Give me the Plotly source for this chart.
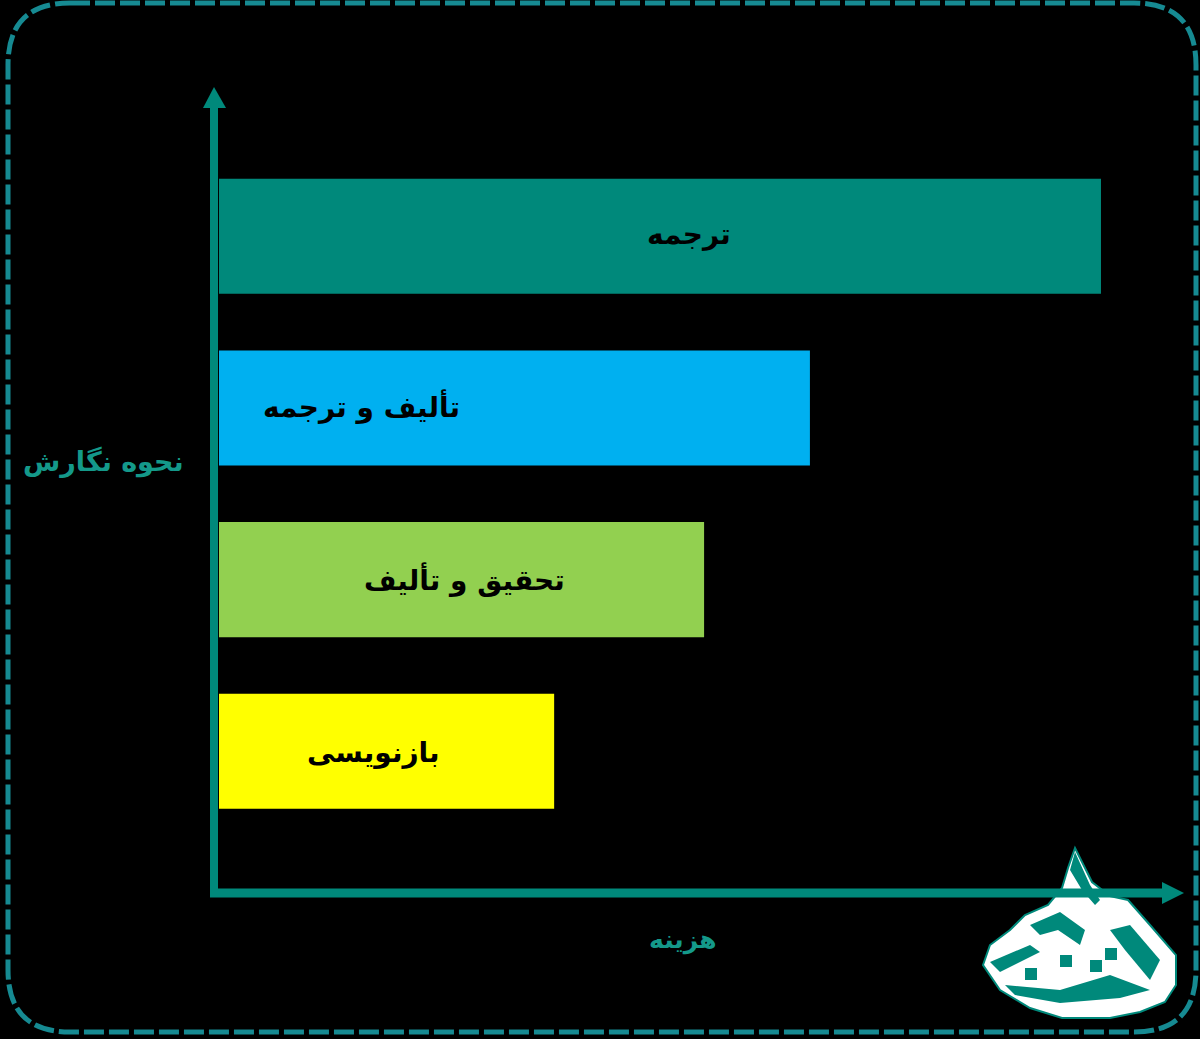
import plotly.graph_objects as go

# ---- data ----
categories = ["ترجمه", "تألیف و ترجمه", "تحقیق و تألیف", "بازنویسی"]
cost_values = [100, 67, 55, 38]
bar_colors = ["#00897B", "#00B0F0", "#92D050", "#FFFF00"]
y_axis_title = "نحوه نگارش"
x_axis_title = "هزینه"

W, H = 1200, 1039
TEAL = "#00897B"
BORDER = "#168a92"


def px(x):
    return x / W


def py(y):
    return 1 - y / H


def poly(points):
    return "M " + " L ".join(f"{px(a)},{py(b)}" for a, b in points) + " Z"


fig = go.Figure()
fig.add_trace(go.Bar(
    y=categories, x=cost_values, orientation="h",
    marker=dict(color=bar_colors, line=dict(width=0)),
    width=0.67, hoverinfo="skip", showlegend=False,
))

# label placement (style): x in axis units, pixel shift
label_pos = [(53.3, 2), (16.2, 1), (27.8, 0), (17.5, -1)]
annotations = []
for cat, (lx, ys) in zip(categories, label_pos):
    annotations.append(dict(
        x=lx, y=cat, xref="x", yref="y", text="<b>" + cat + "</b>",
        showarrow=False, font=dict(family="DejaVu Sans", size=28, color="black"),
        xanchor="center", yanchor="middle", yshift=ys,
    ))
annotations.append(dict(
    x=px(103), y=py(462), xref="paper", yref="paper", text="<b>" + y_axis_title + "</b>",
    showarrow=False, font=dict(family="DejaVu Sans", size=27, color="#14998a"),
    xanchor="center", yanchor="middle",
))
annotations.append(dict(
    x=px(683), y=py(940), xref="paper", yref="paper", text="<b>" + x_axis_title + "</b>",
    showarrow=False, font=dict(family="DejaVu Sans", size=25, color="#14998a"),
    xanchor="center", yanchor="middle",
))

shapes = []

# simplified logo (bottom-right emblem)
logo_outline = [(1075, 848), (1082, 862), (1092, 882), (1110, 896), (1128, 900),
                (1150, 925), (1176, 955), (1176, 985), (1165, 1002), (1140, 1012),
                (1110, 1018), (1062, 1018), (1030, 1008), (1000, 990), (983, 965),
                (990, 945), (1010, 930), (1025, 915), (1048, 905), (1062, 888), (1068, 868)]
shapes.append(dict(type="path", xref="paper", yref="paper", path=poly(logo_outline),
                   fillcolor="white", line=dict(color=TEAL, width=2)))
logo_bands = [
    [(1075, 852), (1090, 885), (1100, 900), (1095, 905), (1082, 890), (1070, 870)],
    [(1030, 925), (1060, 912), (1085, 930), (1080, 945), (1058, 930), (1040, 935)],
    [(990, 962), (1030, 945), (1040, 952), (1000, 972)],
    [(1005, 985), (1060, 990), (1110, 975), (1150, 990), (1120, 998), (1060, 1003), (1015, 995)],
    [(1110, 930), (1130, 925), (1160, 960), (1150, 980), (1125, 950)],
]
for band in logo_bands:
    shapes.append(dict(type="path", xref="paper", yref="paper", path=poly(band),
                       fillcolor=TEAL, line=dict(width=0)))
for sx, sy in [(1025, 968), (1090, 960), (1105, 948), (1060, 955)]:
    shapes.append(dict(type="rect", xref="paper", yref="paper",
                       x0=px(sx), x1=px(sx + 12), y0=py(sy), y1=py(sy + 12),
                       fillcolor=TEAL, line=dict(width=0)))

# rounded dashed border
L, R, T, B, r = 8, 1196, 3, 1032, 62
border_path = (
    f"M {px(L + r)},{py(T)} L {px(R - r)},{py(T)} "
    f"Q {px(R)},{py(T)} {px(R)},{py(T + r)} "
    f"L {px(R)},{py(B - r)} Q {px(R)},{py(B)} {px(R - r)},{py(B)} "
    f"L {px(L + r)},{py(B)} Q {px(L)},{py(B)} {px(L)},{py(B - r)} "
    f"L {px(L)},{py(T + r)} Q {px(L)},{py(T)} {px(L + r)},{py(T)} Z"
)
shapes += [
    dict(type="path", xref="paper", yref="paper", path=border_path,
         line=dict(color=BORDER, width=5, dash="20px,5px"), fillcolor="rgba(0,0,0,0)"),
    # vertical axis line + arrowhead
    dict(type="line", xref="paper", yref="paper", x0=px(214), x1=px(214), y0=py(897), y1=py(104),
         line=dict(color=TEAL, width=8)),
    dict(type="path", xref="paper", yref="paper",
         path=f"M {px(214)},{py(87)} L {px(203)},{py(108)} L {px(226)},{py(108)} Z",
         fillcolor=TEAL, line=dict(width=0)),
    # horizontal axis line + arrowhead
    dict(type="line", xref="paper", yref="paper", x0=px(210), x1=px(1166), y0=py(893), y1=py(893),
         line=dict(color=TEAL, width=9)),
    dict(type="path", xref="paper", yref="paper",
         path=f"M {px(1184)},{py(893)} L {px(1162)},{py(882)} L {px(1162)},{py(904)} Z",
         fillcolor=TEAL, line=dict(width=0)),
]

fig.update_layout(
    width=W, height=H,
    margin=dict(l=0, r=0, t=0, b=0),
    paper_bgcolor="black", plot_bgcolor="black",
    xaxis=dict(domain=[px(219), px(1183)], range=[0, 109.3], visible=False, fixedrange=True),
    yaxis=dict(domain=[py(893), py(88)], range=[3.825, -0.863], visible=False, fixedrange=True,
               type="category"),
    shapes=shapes, annotations=annotations, bargap=0.33,
)

fig.write_html("out.html", config={"displayModeBar": False},
               post_script="document.body.style.margin='0';document.body.style.background='black';")
